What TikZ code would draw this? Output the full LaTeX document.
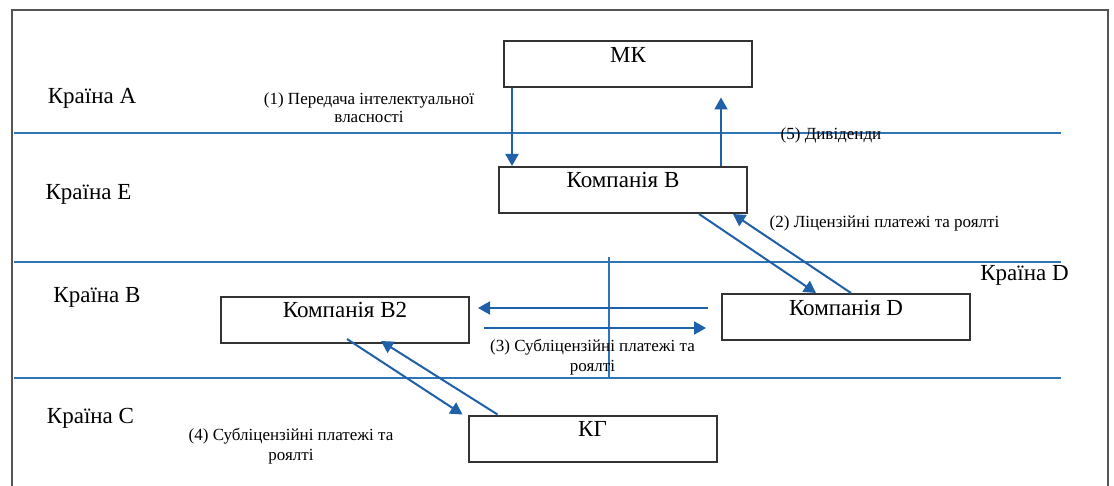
\documentclass[tikz,border=0pt]{standalone}
\usepackage{fontspec}
\setmainfont{Liberation Serif}
\usetikzlibrary{arrows.meta,positioning,calc}
\definecolor{sepblue}{RGB}{46,117,182}
\definecolor{flowblue}{RGB}{31,96,168}
\definecolor{framegray}{RGB}{85,85,85}

\begin{document}
\begin{tikzpicture}[x=0.5pt,y=-0.5pt]
  \tikzstyle{every node}=[inner sep=0pt]
  \tikzstyle{firm}=[draw=black!80, line width=1pt, minimum width=124pt, minimum height=23pt,
    text height=10.5pt, text depth=12.5pt, font=\fontsize{11.5}{13}\selectfont]
  \tikzstyle{country}=[anchor=base, font=\fontsize{11.5}{13}\selectfont]
  \tikzstyle{flowlabel}=[anchor=north, align=center, font=\fontsize{8.5}{10}\selectfont]

  \useasboundingbox (0,0) rectangle (1114,486);

  % frame and country borders
  \draw[framegray, line width=1pt] (12,486) -- (12,10) -- (1108,10) -- (1108,486);
  \begin{scope}[sepblue, line width=0.75pt]
    \draw (14,133) -- (1061,133);
    \draw (14,262) -- (1061,262);
    \draw (14,378) -- (1061,378);
    \draw (609,257) -- (609,378);
  \end{scope}

  % Specification of nodes (position, etc.)
  \node[firm] (MK) at (628,64.5) {МК};
  \node[firm] (B) at (623,190) {Компанія B};
  \node[firm] (B2) at (345,320) {Компанія B2};
  \node[firm] (D) at (846,317) {Компанія D};
  \node[firm] (KG) at (592.5,438.5) {КГ};

  \node[country] (cA) at (92,104) {Країна А};
  \node[country] (cE) at (88.5,200) {Країна Е};
  \node[country] (cB) at (97,303) {Країна В};
  \node[country] (cC) at (90.5,423) {Країна С};
  \node[country] (cD) at (1024.5,281) {Країна D};

  \node[flowlabel, font=\fontsize{8.5}{9}\selectfont] (l1) at (369,92) {(1) Передача інтелектуальної\\власності};
  \node[flowlabel, anchor=base] (l5) at (831,140) {(5) Дивіденди};
  \node[flowlabel, anchor=base] (l2) at (884.5,228) {(2) Ліцензійні платежі та роялті};
  \node[flowlabel] (l3) at (592.5,339) {(3) Субліцензійні платежі та\\роялті};
  \node[flowlabel] (l4) at (291,428) {(4) Субліцензійні платежі та\\роялті};

  \begin{scope}[flowblue, line width=1pt, -{Triangle[length=6pt,width=6.5pt]}]
    \draw ([xshift=4.5pt]MK.south west) -- ([xshift=4.5pt]MK.south west |- B.north);
    \draw ([xshift=111.5pt]B.north west) -- ([xshift=111.5pt,yshift=-4.5pt]B.north west |- MK.south);
    \draw ([xshift=100.5pt]B.south west) -- ([xshift=47.5pt]D.north west);
    \draw ([xshift=65pt]D.north west) -- ([xshift=117.5pt]B.south west);
    \coordinate (d3) at ([xshift=-6.5pt,yshift=4.5pt]D.west);
    \coordinate (b3) at ([xshift=7pt,yshift=-4pt]B2.east);
    \draw (d3) -- ([xshift=4pt]B2.east |- d3);
    \draw (b3) -- ([xshift=-7.5pt]D.west |- b3);
    \draw ([xshift=63.5pt,yshift=2.5pt]B2.south west) -- ([xshift=-2.5pt]KG.north west);
    \draw ([xshift=15pt]KG.north west) -- ([xshift=80.5pt,yshift=1.5pt]B2.south west);
  \end{scope}
\end{tikzpicture}
\end{document}
